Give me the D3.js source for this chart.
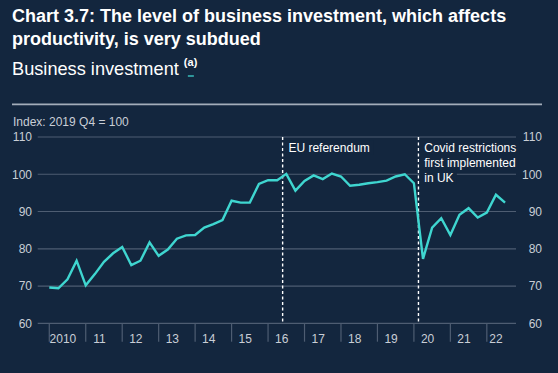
<!DOCTYPE html>
<html>
<head>
<meta charset="utf-8">
<script src="https://cdn.jsdelivr.net/npm/d3@7"></script>
<style>
  html, body { margin: 0; padding: 0; background: #13263e; }
  svg { display: block; font-family: Arial, "Liberation Sans", sans-serif; }
</style>
</head>
<body>
<svg id="chart" width="558" height="373"></svg>
<script>
// business investment, quarterly, 2010 Q1 .. 2022 Q3 (index 2019 Q4 = 100)
const investment = [
  69.6, 69.4, 71.8, 76.8,
  70.2, 73.2, 76.5, 78.8,
  80.5, 75.6, 76.8, 81.7,
  78.1, 79.8, 82.7, 83.6,
  83.7, 85.7, 86.6, 87.7,
  92.9, 92.4, 92.4, 97.4,
  98.4, 98.4, 100.1, 95.6,
  98.2, 99.7, 98.7, 100.2,
  99.4, 96.9, 97.2, 97.6,
  97.9, 98.3, 99.4, 100,
  97.6, 77.3, 85.7, 88.2,
  83.7, 89.1, 90.9, 88.4,
  89.7, 94.5, 92.4
]
const yearLabels = ['2010', '11', '12', '13', '14', '15', '16', '17', '18', '19', '20', '21', '22']
const yTicks = [60, 70, 80, 90, 100, 110]
// events, positioned in quarters since 2010 Q1
const eventPos = [25.6, 40.5]
const eventText = [['EU referendum'], ['Covid restrictions', 'first implemented', 'in UK']]

const bg = '#13263e'
const svg = d3.select('#chart')

let x = d3.scaleLinear().domain([-1.27, 51.2]).range([37.7, 516])
let y = d3.scaleLinear().domain([60, 110]).range([323.3, 137])

// titles
svg.append('text')
   .attr('x', 12).attr('y', 22)
   .attr('fill', '#ffffff').attr('font-weight', 'bold').attr('font-size', 18)
   .text('Chart 3.7: The level of business investment, which affects')
svg.append('text')
   .attr('x', 12).attr('y', 44.5)
   .attr('fill', '#ffffff').attr('font-weight', 'bold').attr('font-size', 18)
   .text('productivity, is very subdued')
let sub = svg.append('text')
   .attr('x', 12).attr('y', 75)
   .attr('fill', '#ffffff').attr('font-size', 18.2)
let subMain = sub.append('tspan').text('Business investment ')
sub.append('tspan').attr('font-size', 11).attr('font-weight', 'bold').attr('dy', -9).text('(a)')
let subW = subMain.node().getComputedTextLength()
svg.append('line')
   .attr('x1', 12 + subW + 4).attr('x2', 12 + subW + 10).attr('y1', 76).attr('y2', 76)
   .attr('stroke', '#3fd3cd').attr('stroke-width', 1.3)

svg.append('line')
   .attr('x1', 12).attr('x2', 542).attr('y1', 104.3).attr('y2', 104.3)
   .attr('stroke', '#a3adba').attr('stroke-width', 1.8)

svg.append('text')
   .attr('x', 13).attr('y', 126)
   .attr('fill', '#c9ced6').attr('font-size', 12)
   .text('Index: 2019 Q4 = 100')

// gridlines + y labels both sides
let grid = svg.append('g')
grid.selectAll('line')
    .data(yTicks)
    .enter()
    .append('line')
    .attr('x1', x.range()[0]).attr('x2', x.range()[1])
    .attr('y1', (d) => y(d)).attr('y2', (d) => y(d))
    .attr('stroke', '#4e5d72').attr('stroke-width', 1.2)

let leftAxis = d3.axisLeft(y).tickValues(yTicks).tickSize(0).tickPadding(0)
let rightAxis = d3.axisRight(y).tickValues(yTicks).tickSize(0).tickPadding(0)
let gl = svg.append('g').attr('transform', 'translate(32,0)').call(leftAxis)
let gr = svg.append('g').attr('transform', 'translate(542,0)').call(rightAxis)
gr.selectAll('text').attr('text-anchor', 'end')
;[gl, gr].forEach((g) => {
    g.select('.domain').remove()
    g.selectAll('text')
     .attr('fill', '#c9ced6').attr('font-size', 12)
     .attr('font-family', 'Arial, "Liberation Sans", sans-serif')
})

// year ticks on the bottom
let yearStarts = yearLabels.map((d, i) => i * 4)
svg.append('g').selectAll('line')
   .data(yearStarts)
   .enter()
   .append('line')
   .attr('x1', (d) => x(d)).attr('x2', (d) => x(d))
   .attr('y1', y(60)).attr('y2', 341.7)
   .attr('stroke', '#4e5d72').attr('stroke-width', 1.2)

svg.append('g').selectAll('text')
   .data(yearLabels)
   .enter()
   .append('text')
   .attr('x', (d, i) => {
      let first = i * 4
      let last = Math.min(i * 4 + 3, investment.length - 1)
      return x((first + last) / 2)
   })
   .attr('y', 342.5)
   .attr('text-anchor', 'middle')
   .attr('fill', '#c9ced6').attr('font-size', 12)
   .text((d) => d)

// event markers
eventPos.forEach((p, k) => {
    svg.append('line')
       .attr('x1', x(p)).attr('x2', x(p))
       .attr('y1', y(110)).attr('y2', y(60))
       .attr('stroke', '#ffffff').attr('stroke-width', 1.4)
       .attr('stroke-dasharray', '3,2.5')
    eventText[k].forEach((t, j) => {
        let tx = x(p) + 5.8
        let ty = 151.5 + j * 15
        let label = svg.append('text')
           .attr('x', tx).attr('y', ty)
           .attr('fill', '#ffffff').attr('font-size', 12)
           .text(t)
        let w = label.node().getComputedTextLength()
        svg.insert('rect', () => label.node())
           .attr('x', x(p) + 1).attr('y', ty - 11)
           .attr('width', w + 8).attr('height', 14)
           .attr('fill', bg)
    })
})

// the series
let line = d3.line()
    .x((d, i) => x(i))
    .y((d) => y(d))
svg.append('path')
   .datum(investment)
   .attr('d', line)
   .attr('fill', 'none')
   .attr('stroke', '#3fd6d0')
   .attr('stroke-width', 2.4)
   .attr('stroke-linejoin', 'miter')
</script>
</body>
</html>
